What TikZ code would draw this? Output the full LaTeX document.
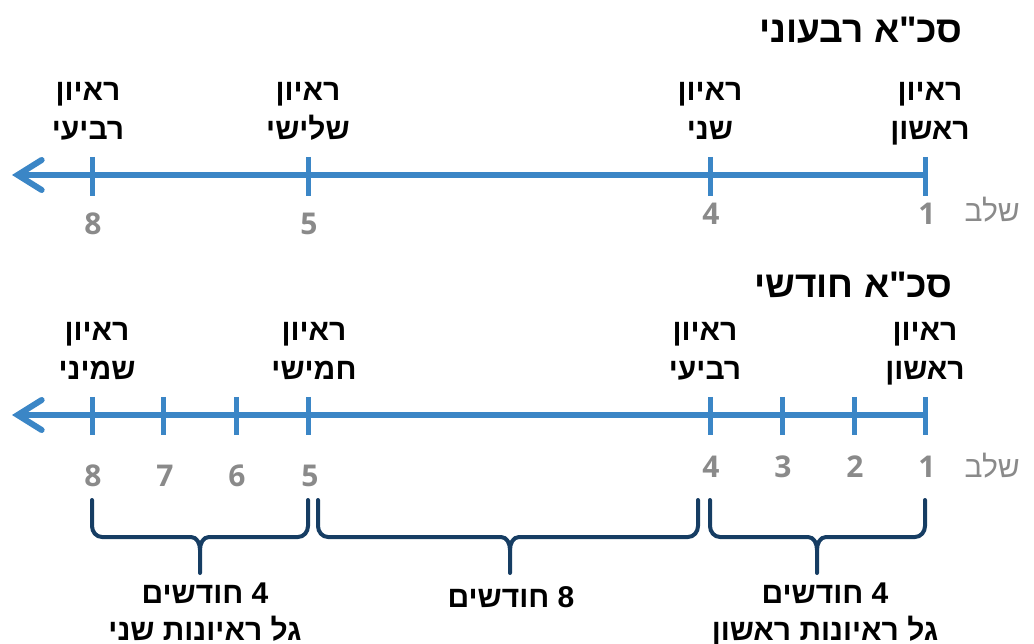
\documentclass[tikz,border=0pt]{standalone}
\usepackage{fontspec}
\setmainfont{Liberation Sans}
\newfontfamily\he[Script=Hebrew,Ligatures=TeXOff]{Liberation Sans}
\newfontfamily\dig{Open Sans}
\TeXXeTstate=1
\usetikzlibrary{arrows.meta,calc}
\definecolor{axisblue}{RGB}{59,134,198}
\definecolor{numgray}{RGB}{138,138,138}
\definecolor{navy}{RGB}{22,61,99}
\begin{document}
\begin{tikzpicture}[x=1pt,y=-1pt,
  lbl/.style={font=\he\bfseries\fontsize{30}{39}\selectfont, align=center, inner sep=0pt, anchor=north},
  ttl/.style={font=\he\bfseries\fontsize{37}{44}\selectfont, inner sep=0pt, anchor=base east},
  num/.style={font=\dig\bfseries\fontsize{30}{34}\selectfont, text=numgray, inner sep=0pt},
  stage/.style={font=\he\fontsize{30}{34}\selectfont, text=numgray, inner sep=0pt, anchor=base east},
  btm/.style={font=\he\bfseries\fontsize{30}{37}\selectfont, align=center, inner sep=0pt, anchor=north},
  axisline/.style={draw=axisblue, line width=6pt, -{Straight Barb[length=24pt,width=30pt,line cap=round]}},
  tickline/.style={draw=axisblue, line width=5pt},
  bracepath/.style={draw=navy, line width=4pt, line cap=round, line join=round},
]
\useasboundingbox (0,0) rectangle (1034,644);

% ---------------- top timeline ----------------
\node[ttl] (title1) at (963,43) {\beginR סכ"א רבעוני\endR};

\coordinate (a1e) at (12,175);
\foreach \n/\x in {1/925,4/710,5/308,8/92} {
  \coordinate (ta\n) at (\x,175);
}
\draw[axisline] (ta1) -- (a1e);
\foreach \n in {1,4,5,8} {
  \draw[tickline] ($(ta\n)+(0,-18)$) -- ($(ta\n)+(0,21)$);
}

\node[lbl] (l1a) at (930,82) {\beginR ראיון\endR\\\beginR ראשון\endR};
\node[lbl] (l1b) at (710,82) {\beginR ראיון\endR\\\beginR שני\endR};
\node[lbl] (l1c) at (308,82) {\beginR ראיון\endR\\\beginR שלישי\endR};
\node[lbl] (l1d) at (88,82) {\beginR ראיון\endR\\\beginR רביעי\endR};

\node[num] (n1a) at (927,214) {1};
\node[num] (n1b) at (711,214) {4};
\node[num] (n1c) at (309,224) {5};
\node[num] (n1d) at (93,224) {8};
\node[stage] (st1) at (1020,222) {\beginR שלב\endR};

% ---------------- bottom timeline ----------------
\node[ttl] (title2) at (953,298) {\beginR סכ"א חודשי\endR};

\coordinate (a2e) at (12,415);
\foreach \n/\x in {1/925,2/854,3/782,4/710,5/308,6/236,7/163,8/92} {
  \coordinate (tb\n) at (\x,415);
}
\draw[axisline] (tb1) -- (a2e);
\foreach \n in {1,...,8} {
  \draw[tickline] ($(tb\n)+(0,-18)$) -- ($(tb\n)+(0,20)$);
}

\node[lbl] (l2a) at (925,322) {\beginR ראיון\endR\\\beginR ראשון\endR};
\node[lbl] (l2b) at (705,322) {\beginR ראיון\endR\\\beginR רביעי\endR};
\node[lbl] (l2c) at (314,322) {\beginR ראיון\endR\\\beginR חמישי\endR};
\node[lbl] (l2d) at (97,322) {\beginR ראיון\endR\\\beginR שמיני\endR};

\foreach \n/\x/\y in {1/927/467,2/855/467,3/783/467,4/711/467,5/310/476,6/237/476,7/165/476,8/93/476} {
  \node[num] (n2\n) at (\x,\y) {\n};
}
\node[stage] (st2) at (1020,477) {\beginR שלב\endR};

% ---------------- braces ----------------
\foreach \name/\l/\m/\r in {A/92/200/308, B/318/510/698, C/710/817/925} {
  \coordinate (br\name l) at (\l,500);
  \coordinate (br\name r) at (\r,500);
  \coordinate (br\name t) at (\m,573);
  \draw[bracepath] (br\name l) -- ++(0,26) to[out=-90,in=180] ++(10,11)
      -- ($(br\name t)+(-9,-36)$) to[out=0,in=90] ($(br\name t)+(0,-23)$) -- (br\name t);
  \draw[bracepath] (br\name r) -- ++(0,26) to[out=-90,in=0] ++(-10,11)
      -- ($(br\name t)+(9,-36)$) to[out=180,in=90] ($(br\name t)+(0,-23)$);
}

\node[btm] (g1) at (205,583) {\beginR 4 חודשים\endR\\\beginR גל ראיונות שני\endR};
\node[btm] (g2) at (511,586) {\beginR 8 חודשים\endR};
\node[btm] (g3) at (825,583) {\beginR 4 חודשים\endR\\\beginR גל ראיונות ראשון\endR};
\end{tikzpicture}
\end{document}
